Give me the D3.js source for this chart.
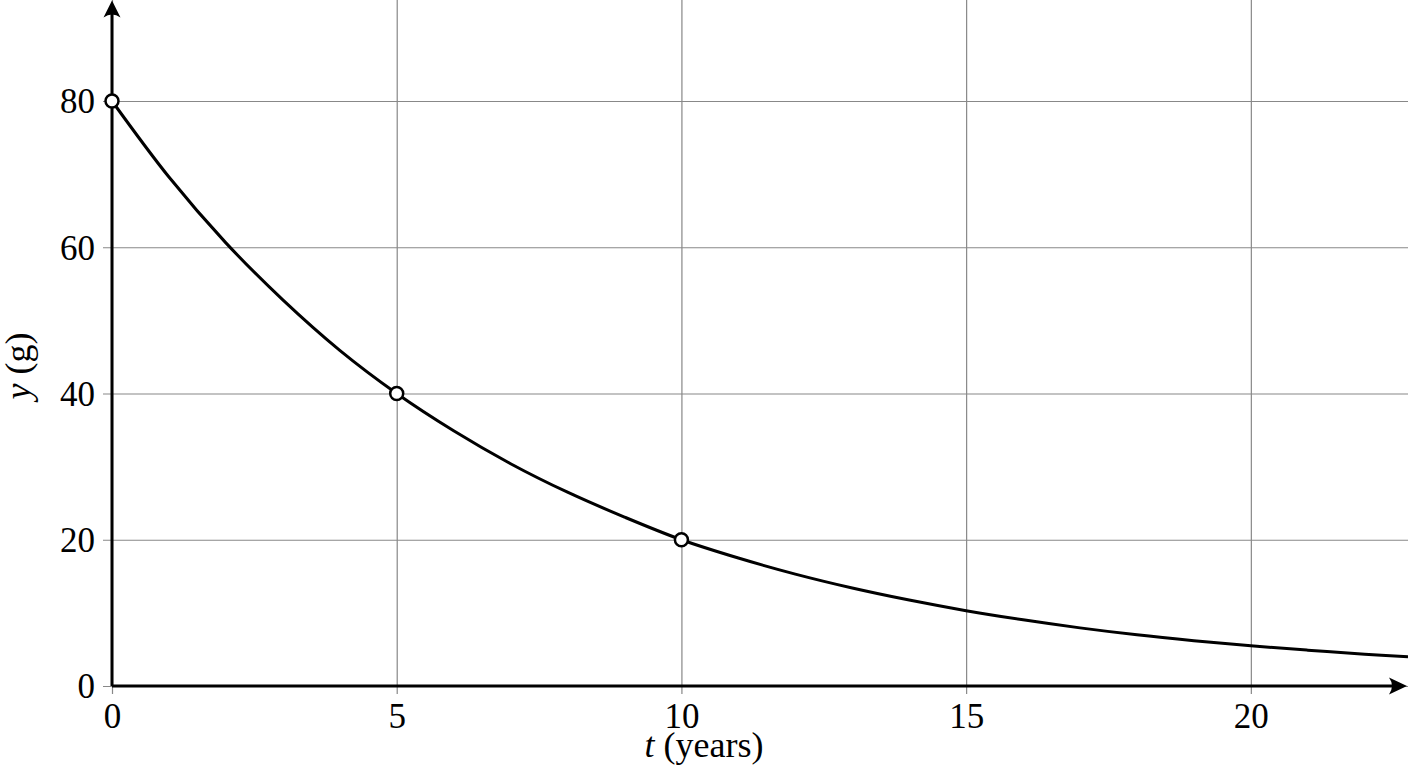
<!DOCTYPE html>
<html>
<head>
<meta charset="utf-8">
<script src="https://cdn.jsdelivr.net/npm/d3@7"></script>
<style>
  html, body { margin: 0; padding: 0; background: #fff; }
  svg { display: block; }
  .grid line { stroke: #888; stroke-width: 1.2; }
  .grid text { fill: #000; }
</style>
</head>
<body>
<svg id="chart" width="1408" height="768"></svg>
<script>
// values
var tYears  = [0, 1, 2, 3, 4, 5, 6, 7, 8, 9, 10, 11, 12, 13, 14, 15, 16, 17, 18, 19, 20, 21, 22, 22.76];
var massG   = [80, 69.6, 60.6, 52.8, 45.9, 40, 34.9, 30.4, 26.5, 23.1, 20, 17.5, 15.3, 13.4, 11.75, 10.3, 9.05, 7.95, 7.0, 6.2, 5.5, 4.9, 4.35, 4.0];
var markT   = [0, 5, 10];
var markY   = [80, 40, 20];
var xTicks  = [0, 5, 10, 15, 20];
var yTicks  = [0, 20, 40, 60, 80];
var xLabel  = "(years)", xVar = "t";
var yLabel  = "(g)",     yVar = "y";

var svg = d3.select("#chart"),
    W   = +svg.attr("width"),
    H   = +svg.attr("height"),
    font = "Liberation Serif, Times New Roman, serif";

var x = d3.scaleLinear().domain([0, 22.76]).range([112, W]);
var y = d3.scaleLinear().domain([0, 80]).range([686, 101]);
var yTop = 0;

// grid + tick labels
var gx = svg.append("g")
    .attr("class", "grid")
    .attr("transform", "translate(0," + (y(0) + 8) + ")")
    .call(d3.axisBottom(x)
            .tickValues(xTicks)
            .tickSizeInner(-(y(0) + 8 - yTop))
            .tickSizeOuter(0)
            .tickPadding(9));
gx.select(".domain").remove();
gx.attr("font-family", font).attr("font-size", 35);

var gy = svg.append("g")
    .attr("class", "grid")
    .attr("transform", "translate(" + (x(0) - 9) + ",0)")
    .call(d3.axisLeft(y)
            .tickValues(yTicks)
            .tickSizeInner(-(W - x(0) + 9))
            .tickSizeOuter(0)
            .tickPadding(8));
gy.select(".domain").remove();
gy.attr("font-family", font).attr("font-size", 35);
gy.selectAll("text").attr("dy", "0.34em");

// axes with arrow heads
var ax = svg.append("g").attr("stroke", "#000").attr("fill", "#000");
ax.append("line")
    .attr("x1", x(0)).attr("y1", y(0))
    .attr("x2", W - 10).attr("y2", y(0))
    .attr("stroke-width", 3);
ax.append("line")
    .attr("x1", x(0)).attr("y1", y(0))
    .attr("x2", x(0)).attr("y2", yTop + 10)
    .attr("stroke-width", 3);

var tipX = W - 1, tipY = y(0);
ax.append("path")
    .attr("stroke", "none")
    .attr("d", "M" + tipX + "," + tipY +
               " L" + (tipX - 18) + "," + (tipY - 8.5) +
               " Q" + (tipX - 12) + "," + tipY + " " + (tipX - 18) + "," + (tipY + 8.5) + " Z");
var tX = x(0), tY = yTop + 0.5;
ax.append("path")
    .attr("stroke", "none")
    .attr("d", "M" + tX + "," + tY +
               " L" + (tX - 8.5) + "," + (tY + 17) +
               " Q" + tX + "," + (tY + 11) + " " + (tX + 8.5) + "," + (tY + 17) + " Z");

// decay curve
var line = d3.line()
    .x(function(d, i) { return x(tYears[i]); })
    .y(function(d) { return y(d); })
    .curve(d3.curveCatmullRom.alpha(0.5));

svg.append("path")
    .datum(massG)
    .attr("fill", "none")
    .attr("stroke", "#000")
    .attr("stroke-width", 3)
    .attr("d", line);

// marked points
svg.selectAll("circle.pt")
    .data(markT)
  .enter().append("circle")
    .attr("class", "pt")
    .attr("cx", function(d) { return x(d); })
    .attr("cy", function(d, i) { return y(markY[i]); })
    .attr("r", 6.5)
    .attr("fill", "#fff")
    .attr("stroke", "#000")
    .attr("stroke-width", 2.5);

// axis titles
var tx = svg.append("text")
    .attr("x", 704)
    .attr("y", 757)
    .attr("text-anchor", "middle")
    .attr("font-family", font)
    .attr("font-size", 36);
tx.append("tspan").attr("font-style", "italic").text(xVar);
tx.append("tspan").text(" " + xLabel);

var ty = svg.append("text")
    .attr("transform", "translate(30,366) rotate(-90)")
    .attr("text-anchor", "middle")
    .attr("font-family", font)
    .attr("font-size", 36);
ty.append("tspan").attr("font-style", "italic").text(yVar);
ty.append("tspan").text(" " + yLabel);
</script>
</body>
</html>
